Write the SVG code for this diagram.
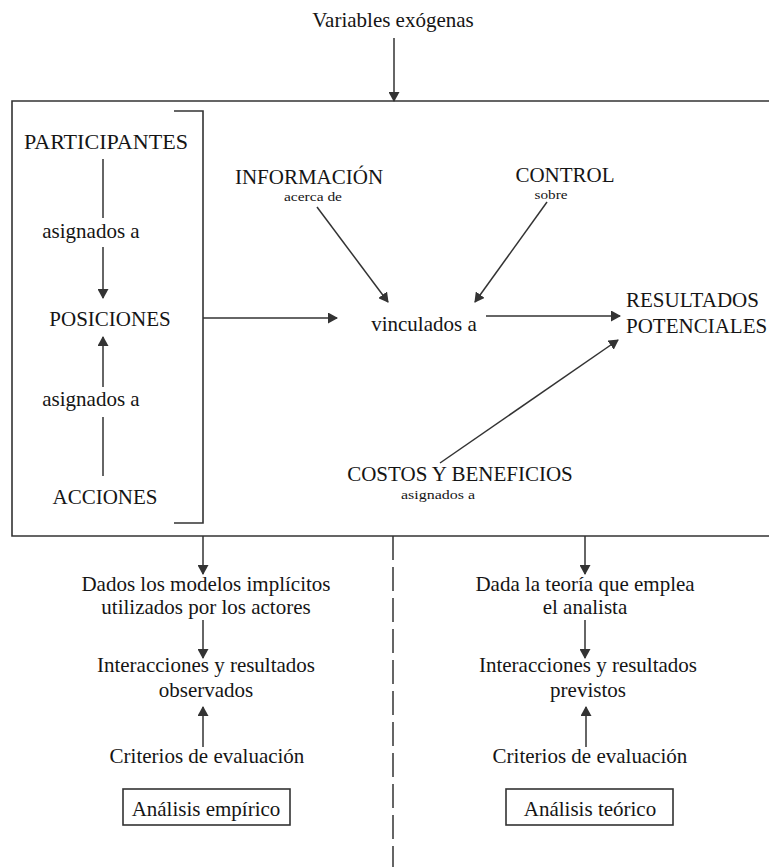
<svg xmlns="http://www.w3.org/2000/svg" width="769" height="867" viewBox="0 0 769 867">
  <style>
    text { font-family: "Liberation Serif", "Times New Roman", serif; fill: #151515; }
    .t { font-size: 21px; }
    .s { font-size: 13px; }
    .m { text-anchor: middle; }
    .ln { stroke: #333; stroke-width: 1.5; fill: none; }
    .arr { stroke: #333; stroke-width: 1.5; fill: none; marker-end: url(#ah); }
    .frame { stroke: #333; stroke-width: 1.6; fill: none; }
    .dash { stroke: #333; stroke-width: 1.5; fill: none; stroke-dasharray: 24 7; }
  </style>
  <defs>
    <marker id="ah" viewBox="0 0 10 11" markerUnits="userSpaceOnUse" markerWidth="10" markerHeight="11" refX="9" refY="5.5" orient="auto">
      <path d="M0,0 L10,5.5 L0,11 z" fill="#333"/>
    </marker>
  </defs>

  <rect width="769" height="867" fill="#fff"/>

  <!-- outer action-arena frame (open on the right) and bracket -->
  <g id="frame">
    <path class="frame" d="M775,101 H12 V536 H775"/>
    <path class="frame" d="M174,111 H203 V523 H174"/>
    <path class="dash" d="M393,536 V867"/>
  </g>

  <g id="variables">
    <text class="t m" x="393" y="27">Variables exógenas</text>
  </g>

  <g id="participantes">
    <text class="t m" x="106" y="149" textLength="164" lengthAdjust="spacingAndGlyphs">PARTICIPANTES</text>
  </g>
  <g id="asignados-1">
    <text class="t m" x="91" y="238">asignados a</text>
  </g>
  <g id="posiciones">
    <text class="t m" x="110" y="326">POSICIONES</text>
  </g>
  <g id="asignados-2">
    <text class="t m" x="91" y="406">asignados a</text>
  </g>
  <g id="acciones">
    <text class="t m" x="105" y="504">ACCIONES</text>
  </g>

  <g id="informacion">
    <text class="t m" x="309" y="184">INFORMACIÓN</text>
    <text class="s m" x="313" y="201" textLength="58" lengthAdjust="spacingAndGlyphs">acerca de</text>
  </g>
  <g id="control">
    <text class="t m" x="565" y="182">CONTROL</text>
    <text class="s m" x="551" y="199" textLength="33" lengthAdjust="spacingAndGlyphs">sobre</text>
  </g>
  <g id="vinculados">
    <text class="t m" x="424" y="331">vinculados a</text>
  </g>
  <g id="resultados">
    <text class="t" x="626" y="307">RESULTADOS</text>
    <text class="t" x="626" y="333">POTENCIALES</text>
  </g>
  <g id="costos">
    <text class="t m" x="460" y="481">COSTOS Y BENEFICIOS</text>
    <text class="s m" x="438" y="499" textLength="74" lengthAdjust="spacingAndGlyphs">asignados a</text>
  </g>

  <!-- empirical column -->
  <g id="modelos">
    <text class="t m" x="206" y="591">Dados los modelos implícitos</text>
    <text class="t m" x="206" y="614">utilizados por los actores</text>
  </g>
  <g id="observados">
    <text class="t m" x="206" y="672">Interacciones y resultados</text>
    <text class="t m" x="206" y="697">observados</text>
  </g>
  <g id="criterios-emp">
    <text class="t m" x="207" y="763">Criterios de evaluación</text>
  </g>
  <g id="analisis-emp">
    <rect class="frame" x="123" y="789" width="167" height="36" stroke-width="1.3"/>
    <text class="t m" x="206" y="816">Análisis empírico</text>
  </g>

  <!-- theoretical column -->
  <g id="teoria">
    <text class="t m" x="585" y="591">Dada la teoría que emplea</text>
    <text class="t m" x="585" y="614">el analista</text>
  </g>
  <g id="previstos">
    <text class="t m" x="588" y="672">Interacciones y resultados</text>
    <text class="t m" x="588" y="697">previstos</text>
  </g>
  <g id="criterios-teo">
    <text class="t m" x="590" y="763">Criterios de evaluación</text>
  </g>
  <g id="analisis-teo">
    <rect class="frame" x="506" y="789" width="167" height="36" stroke-width="1.3"/>
    <text class="t m" x="590" y="816">Análisis teórico</text>
  </g>

  <g id="connectors">
    <path class="arr" d="M394,38 V101"/>
    <path class="ln" d="M103,159 V218"/>
    <path class="arr" d="M103,247 V298"/>
    <path class="ln" d="M103,476 V417"/>
    <path class="arr" d="M103,387 V337"/>
    <path class="arr" d="M203,318 H337"/>
    <path class="arr" d="M486,316 H620"/>
    <path class="arr" d="M317,207 L388,302"/>
    <path class="arr" d="M547,202 L475,302"/>
    <path class="arr" d="M440,463 L618,340"/>
    <path class="arr" d="M203,536 V574"/>
    <path class="arr" d="M203,620 V658"/>
    <path class="arr" d="M203,747 V707"/>
    <path class="arr" d="M585,536 V574"/>
    <path class="arr" d="M585,620 V658"/>
    <path class="arr" d="M586,747 V707"/>
  </g>
</svg>
